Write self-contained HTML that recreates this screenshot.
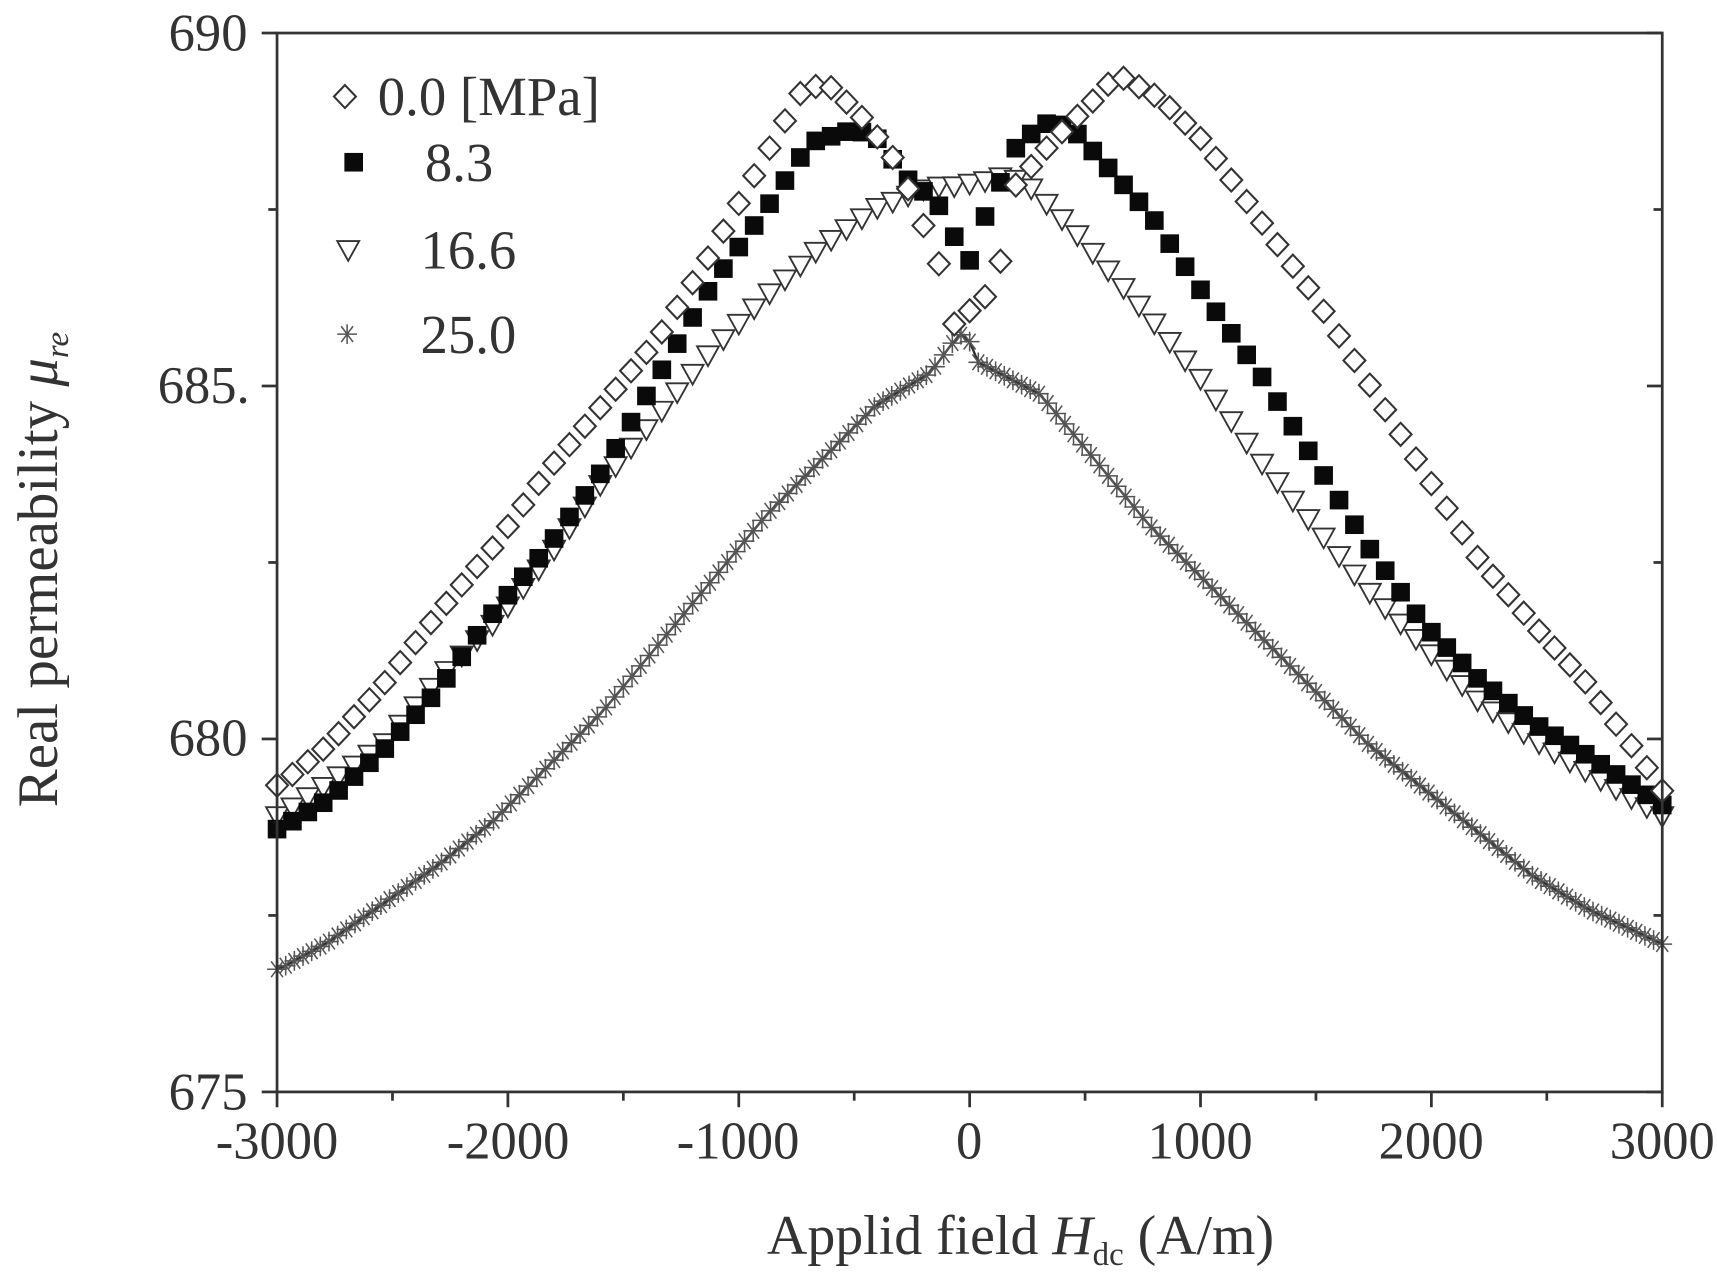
<!DOCTYPE html>
<html><head><meta charset="utf-8"><style>html,body{margin:0;padding:0;background:#fff}svg{display:block}</style></head>
<body>
<svg id="s" xmlns="http://www.w3.org/2000/svg" width="1717" height="1287" viewBox="0 0 1568 1175" font-family="Liberation Serif, serif" fill="#222">
<rect width="1568" height="1175" fill="#fff"/>
<g id="d"></g>
<g stroke="#333" stroke-width="2.5" fill="none">
<rect x="253" y="30" width="1265" height="967"/>
</g>
<g id="t" stroke="#333" stroke-width="2.5"></g>
<g font-size="48" fill="#333" text-anchor="end">
<text x="226" y="46">690</text><text x="228" y="368">685.</text><text x="226" y="690">680</text><text x="226" y="1013">675</text>
</g>
<g font-size="48" fill="#333" text-anchor="middle">
<text x="253" y="1058">-3000</text><text x="464" y="1058">-2000</text><text x="674" y="1058">-1000</text><text x="885" y="1058">0</text><text x="1096" y="1058">1000</text><text x="1307" y="1058">2000</text><text x="1518" y="1058">3000</text>
</g>
<text x="932" y="1145" font-size="51" fill="#333" text-anchor="middle">Applid field <tspan font-style="italic">H</tspan><tspan font-size="30" dy="10">dc</tspan><tspan dy="-10"> (A/m)</tspan></text>
<text transform="translate(52,520) rotate(-90)" font-size="52" fill="#333" text-anchor="middle">Real permeability <tspan font-style="italic">μ</tspan><tspan font-size="30" font-style="italic" dy="10">re</tspan></text>
<g font-size="50" fill="#333">
<text x="345" y="105">0.0 [MPa]</text><text x="388" y="165">8.3</text><text x="384" y="245">16.6</text><text x="384" y="322">25.0</text>
</g>
<g id="lg"></g>
</svg>
<script>
const NS="http://www.w3.org/2000/svg";
function el(p,tag,a){const e=document.createElementNS(NS,tag);for(const k in a)e.setAttribute(k,a[k]);p.appendChild(e);return e;}
const t=document.getElementById('t');
for(let i=0;i<=12;i++){const x=253+i*1265/12;const L=i%2==0?14:8;el(t,'line',{x1:x,y1:997,x2:x,y2:997+L});}
for(let i=0;i<=6;i++){const y=30+i*967/6;const L=i%2==0?14:8;el(t,'line',{x1:253,y1:y,x2:253-L,y2:y});el(t,'line',{x1:1518,y1:y,x2:1518-L,y2:y});}
function interp(pts,x){for(let i=0;i<pts.length-1;i++){if(x>=pts[i][0]&&x<=pts[i+1][0]){const f=(x-pts[i][0])/(pts[i+1][0]-pts[i][0]);return pts[i][1]+f*(pts[i+1][1]-pts[i][1]);}}return x<pts[0][0]?pts[0][1]:pts[pts.length-1][1];}
const dia=[[255,717],[300,680],[350,625],[400,560],[450,500],[500,430],[550,370],[600,310],[650,230],[700,140],[735,78],[760,80],[790,110],[820,150],[843,205],[857,239],[870,297],[899,272],[913,242],[925,172],[960,130],[1000,90],[1020,68],[1060,90],[1100,130],[1150,200],[1200,270],[1250,350],[1300,430],[1350,510],[1400,570],[1450,625],[1500,695],[1518,722]];
const sq=[[255,757],[300,730],[350,685],[400,630],[450,560],[500,500],[550,430],[600,345],[650,260],[700,190],[740,130],[780,118],[800,125],[830,165],[855,183],[870,213],[884,242],[898,201],[930,130],[960,110],[980,118],[1000,140],[1050,195],[1100,270],[1150,340],[1200,420],[1250,500],[1300,570],[1350,620],[1400,660],[1450,690],[1518,735]];
const tri=[[255,745],[300,715],[350,680],[400,620],[450,570],[500,510],[550,440],[600,380],[650,320],[700,270],[750,225],[800,190],[850,170],[870,170],[900,165],[920,160],[940,170],[980,210],[1050,290],[1100,350],[1150,420],[1200,480],[1250,540],[1300,590],[1350,640],[1400,675],[1450,705],[1518,745]];
const st=[[255,885],[300,860],[350,825],[400,790],[450,750],[500,700],[550,650],[600,590],[650,530],[700,470],[750,420],[800,370],[850,340],[872,310],[882,302],[892,330],[950,360],[1000,420],[1050,480],[1100,530],[1150,580],[1200,630],[1250,680],[1300,720],[1350,760],[1400,800],[1450,830],[1518,862]];
const d=document.getElementById('d');
function diamond(g,x,y){el(g,'path',{d:`M${x} ${y-10.5}L${x+10} ${y}L${x} ${y+10.5}L${x-10} ${y}Z`,fill:'#fff',stroke:'#333','stroke-width':1.9});}
function square(g,x,y){el(g,'rect',{x:x-8.5,y:y-8.5,width:17,height:17,fill:'#0a0a0a'});}
function triangle(g,x,y){el(g,'path',{d:`M${x-10} ${y-8}L${x+10} ${y-8}L${x} ${y+10}Z`,fill:'#fff',stroke:'#333','stroke-width':1.7});}
function star(g,x,y){const r=9;el(g,'path',{d:`M${x-r} ${y}L${x+r} ${y}M${x-r*.6} ${y-r*.8}L${x+r*.6} ${y+r*.8}M${x-r*.6} ${y+r*.8}L${x+r*.6} ${y-r*.8}M${x} ${y-r}L${x} ${y+r}`,stroke:'#555','stroke-width':1.4,fill:'none'});}
let pl='';for(let i=0;i<=160;i++){const x=253+i*1265/160;pl+=(i?'L':'M')+x.toFixed(1)+' '+interp(st,x).toFixed(1);}
el(d,'path',{d:pl,stroke:'#333','stroke-width':2.2,fill:'none'});
for(let i=0;i<=160;i++){const x=253+i*1265/160;star(d,x,interp(st,x));}
const N=90;
for(let i=0;i<=N;i++){const x=253+i*1265/N;triangle(d,x,interp(tri,x));}
for(let i=0;i<=N;i++){const x=253+i*1265/N;square(d,x,interp(sq,x));}
for(let i=0;i<=N;i++){const x=253+i*1265/N;diamond(d,x,interp(dia,x));}
const lg=document.getElementById('lg');
diamond(lg,315,88);square(lg,323,148);triangle(lg,318,228);star(lg,317,305);
</script>
</body></html>
